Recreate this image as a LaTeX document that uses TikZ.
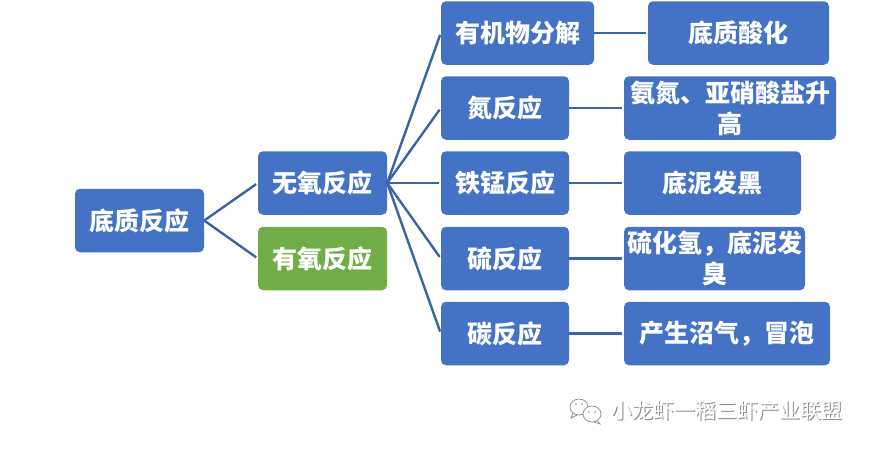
\documentclass[tikz,border=0pt]{standalone}
\usepackage{fontspec}
\usepackage{xcolor}
\setmainfont{Noto Sans CJK SC}
\definecolor{kuangLan}{HTML}{4472C4}
\definecolor{kuangLv}{HTML}{70AD47}
\definecolor{xianLan}{HTML}{3A63A8}
\definecolor{yinGri}{HTML}{8A8A8A}
\tikzset{
  kuang/.style={fill=kuangLan,rounded corners=5pt,text=white,inner sep=0pt,align=center,
    minimum height=63.5pt,font=\fontsize{25}{31}\selectfont\bfseries},
  xian/.style={draw=xianLan,line width=2.4pt,shorten >=2pt},
  yin/.style={font=\fontsize{21}{25}\selectfont,inner sep=0pt}
}
\begin{document}
\begin{tikzpicture}[x=1pt,y=-1pt]
\useasboundingbox (0,0) rectangle (870,450);
% sol kisim
\node[kuang,minimum width=129pt] (diZhi) at (139.5,220.5) {底质反应};
\node[kuang,minimum width=129pt] (wuYang) at (322.5,183) {无氧反应};
\node[kuang,minimum width=129pt,fill=kuangLv] (youYang) at (322.5,258.5) {有氧反应};
% orta sutun
\node[kuang,minimum width=153pt] (youJi) at (517.5,33) {有机物分解};
\node[kuang,minimum width=128pt] (dan) at (505,108) {氮反应};
\node[kuang,minimum width=128pt] (tieMeng) at (505,183) {铁锰反应};
\node[kuang,minimum width=128pt] (liu) at (505,258.5) {硫反应};
\node[kuang,minimum width=128pt] (tan) at (505,333.5) {碳反应};
% sag sutun
\node[kuang,minimum width=181pt] (suanHua) at (738.5,33) {底质酸化};
\node[kuang,minimum width=212pt] (anDan) at (730,108) {氨氮、亚硝酸盐升\\高};
\node[kuang,minimum width=177pt] (faHei) at (712.5,183) {底泥发黑};
\node[kuang,minimum width=181pt] (faChou) at (714.5,258.5) {硫化氢，底泥发\\臭};
\node[kuang,minimum width=206pt] (zhaoQi) at (727,333.5) {产生沼气，冒泡};
% baglantilar
\draw[xian] (diZhi.east)--(wuYang.west);
\draw[xian] (diZhi.east)--(youYang.west);
\foreach \hedef in {youJi,dan,tieMeng,liu,tan}
  \draw[xian] (wuYang.east)--(\hedef.west);
\draw[xian] (youJi.east)--(suanHua.west);
\draw[xian] (dan.east)--(anDan.west);
\draw[xian] (tieMeng.east)--(faHei.west);
\draw[xian] (liu.east)--(faChou.west);
\draw[xian] (tan.east)--(zhaoQi.west);
% filigran
\draw[yinGri,line width=0.7pt,fill=white] (579,407) ellipse (9pt and 8pt);
\draw[yinGri,line width=0.7pt] (573,413)--(571,418)--(577,415);
\fill[yinGri] (576,404) circle (0.8pt) (582,404) circle (0.8pt);
\draw[yinGri,line width=0.7pt,fill=white] (592,414) ellipse (9pt and 8pt);
\draw[yinGri,line width=0.7pt] (597,420)--(600,424)--(594,422);
\fill[yinGri] (589,412) circle (0.8pt) (595,412) circle (0.8pt);
\node[yin,text=yinGri] (golge) at (727.7,411.7) {小龙虾一稻三虾产业联盟};
\node[yin,text=white] (filigran) at (727,411) {小龙虾一稻三虾产业联盟};
\end{tikzpicture}
\end{document}
